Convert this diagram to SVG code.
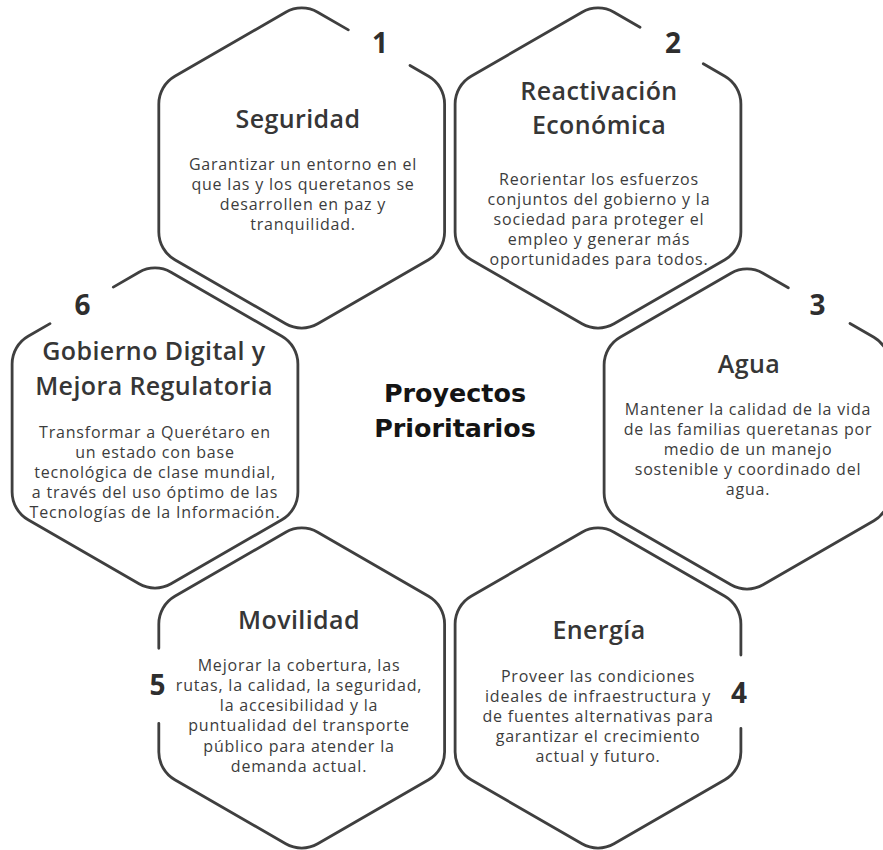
<svg xmlns="http://www.w3.org/2000/svg" width="883" height="850" viewBox="0 0 883 850">
<style>
.hex{fill:none;stroke:#3f3f3f;stroke-width:2.8;stroke-linecap:round;stroke-linejoin:round}
.t{font-family:"Open Sans","Noto Sans",sans-serif;font-weight:600;font-size:25px;letter-spacing:0.4px;fill:#363636;text-anchor:middle}
.b{font-family:"Open Sans","Noto Sans",sans-serif;font-weight:400;font-size:16px;letter-spacing:0.8px;fill:#3c3c3c;text-anchor:middle}
.n{font-family:"Open Sans","Noto Sans",sans-serif;font-weight:700;font-size:28px;fill:#2e2e2e;text-anchor:middle}
.c{font-family:"DejaVu Sans",sans-serif;font-weight:700;font-size:25.4px;fill:#141414;text-anchor:middle}
</style>
<rect width="883" height="850" fill="#ffffff"/>
<g id="connectors"></g>

<g id="hex1">
<path class="hex" transform="translate(301.7,168)" d="M108.3,-102.5 L126.89,-91.74 A32,32 0 0 1 142.89,-64.03 L142.89,64.03 A32,32 0 0 1 126.89,91.74 L16,155.76 A32,32 0 0 1 -16,155.76 L-126.89,91.74 A32,32 0 0 1 -142.89,64.03 L-142.89,-64.03 A32,32 0 0 1 -126.89,-91.74 L-16,-155.76 A32,32 0 0 1 16,-155.76 L46.6,-138.1"/>
<text class="n" x="380" y="53">1</text>
<text class="t" x="298" y="128.3">Seguridad</text>
<text class="b" x="303" y="170">Garantizar un entorno en el</text>
<text class="b" x="303" y="190">que las y los queretanos se</text>
<text class="b" x="303" y="210">desarrollen en paz y</text>
<text class="b" x="303" y="230">tranquilidad.</text>
</g>

<g id="hex2">
<path class="hex" transform="translate(598,168)" d="M105.3,-104.2 L126.89,-91.74 A32,32 0 0 1 142.89,-64.03 L142.89,64.03 A32,32 0 0 1 126.89,91.74 L16,155.76 A32,32 0 0 1 -16,155.76 L-126.89,91.74 A32,32 0 0 1 -142.89,64.03 L-142.89,-64.03 A32,32 0 0 1 -126.89,-91.74 L-16,-155.76 A32,32 0 0 1 16,-155.76 L42,-140.75"/>
<text class="n" x="673" y="53.3">2</text>
<text class="t" x="599" y="99.9">Reactivación</text>
<text class="t" x="599" y="134.3">Económica</text>
<text class="b" x="599" y="184.5">Reorientar los esfuerzos</text>
<text class="b" x="599" y="204.5">conjuntos del gobierno y la</text>
<text class="b" x="599" y="224.5">sociedad para proteger el</text>
<text class="b" x="599" y="244.5">empleo y generar más</text>
<text class="b" x="599" y="264.5">oportunidades para todos.</text>
</g>

<g id="hex3">
<path class="hex" transform="translate(747,429)" d="M103,-105.5 L126.89,-91.74 A32,32 0 0 1 142.89,-64.03 L142.89,64.03 A32,32 0 0 1 126.89,91.74 L16,155.76 A32,32 0 0 1 -16,155.76 L-126.89,91.74 A32,32 0 0 1 -142.89,64.03 L-142.89,-64.03 A32,32 0 0 1 -126.89,-91.74 L-16,-155.76 A32,32 0 0 1 16,-155.76 L41.3,-141.2"/>
<text class="n" x="817.5" y="315">3</text>
<text class="t" x="749" y="373.3">Agua</text>
<text class="b" x="748" y="415">Mantener la calidad de la vida</text>
<text class="b" x="748" y="435">de las familias queretanas por</text>
<text class="b" x="748" y="455">medio de un manejo</text>
<text class="b" x="748" y="475">sostenible y coordinado del</text>
<text class="b" x="748" y="495">agua.</text>
</g>

<g id="hex4">
<path class="hex" transform="translate(598,688)" d="M142.89,40.3 L142.89,64.03 A32,32 0 0 1 126.89,91.74 L16,155.76 A32,32 0 0 1 -16,155.76 L-126.89,91.74 A32,32 0 0 1 -142.89,64.03 L-142.89,-64.03 A32,32 0 0 1 -126.89,-91.74 L-16,-155.76 A32,32 0 0 1 16,-155.76 L126.89,-91.74 A32,32 0 0 1 142.89,-64.03 L142.89,-33"/>
<text class="n" x="739" y="703">4</text>
<text class="t" x="599" y="639">Energía</text>
<text class="b" x="598" y="682">Proveer las condiciones</text>
<text class="b" x="598" y="702">ideales de infraestructura y</text>
<text class="b" x="598" y="722">de fuentes alternativas para</text>
<text class="b" x="598" y="742">garantizar el crecimiento</text>
<text class="b" x="598" y="762">actual y futuro.</text>
</g>

<g id="hex5">
<path class="hex" transform="translate(301.7,688)" d="M-142.89,-39.7 L-142.89,-64.03 A32,32 0 0 1 -126.89,-91.74 L-16,-155.76 A32,32 0 0 1 16,-155.76 L126.89,-91.74 A32,32 0 0 1 142.89,-64.03 L142.89,64.03 A32,32 0 0 1 126.89,91.74 L16,155.76 A32,32 0 0 1 -16,155.76 L-126.89,91.74 A32,32 0 0 1 -142.89,64.03 L-142.89,35.3"/>
<text class="n" x="157.5" y="695">5</text>
<text class="t" x="299" y="629.3">Movilidad</text>
<text class="b" x="299" y="671">Mejorar la cobertura, las</text>
<text class="b" x="299" y="691">rutas, la calidad, la seguridad,</text>
<text class="b" x="299" y="711">la accesibilidad y la</text>
<text class="b" x="299" y="731">puntualidad del transporte</text>
<text class="b" x="299" y="751.5">público para atender la</text>
<text class="b" x="299" y="772">demanda actual.</text>
</g>

<g id="hex6">
<path class="hex" transform="translate(155,428)" d="M-41.7,-140.9 L-16,-155.76 A32,32 0 0 1 16,-155.76 L126.89,-91.74 A32,32 0 0 1 142.89,-64.03 L142.89,64.03 A32,32 0 0 1 126.89,91.74 L16,155.76 A32,32 0 0 1 -16,155.76 L-126.89,91.74 A32,32 0 0 1 -142.89,64.03 L-142.89,-64.03 A32,32 0 0 1 -126.89,-91.74 L-105,-104.4"/>
<text class="n" x="82.5" y="315">6</text>
<text class="t" x="154" y="360.2">Gobierno Digital y</text>
<text class="t" x="154" y="394.6">Mejora Regulatoria</text>
<text class="b" x="155" y="438">Transformar a Querétaro en</text>
<text class="b" x="155" y="458">un estado con base</text>
<text class="b" x="155" y="478">tecnológica de clase mundial,</text>
<text class="b" x="155" y="498">a través del uso óptimo de las</text>
<text class="b" x="155" y="518">Tecnologías de la Información.</text>
</g>

<g id="center">
<text class="c" x="455" y="401.7">Proyectos</text>
<text class="c" x="455" y="437">Prioritarios</text>
</g>
</svg>
